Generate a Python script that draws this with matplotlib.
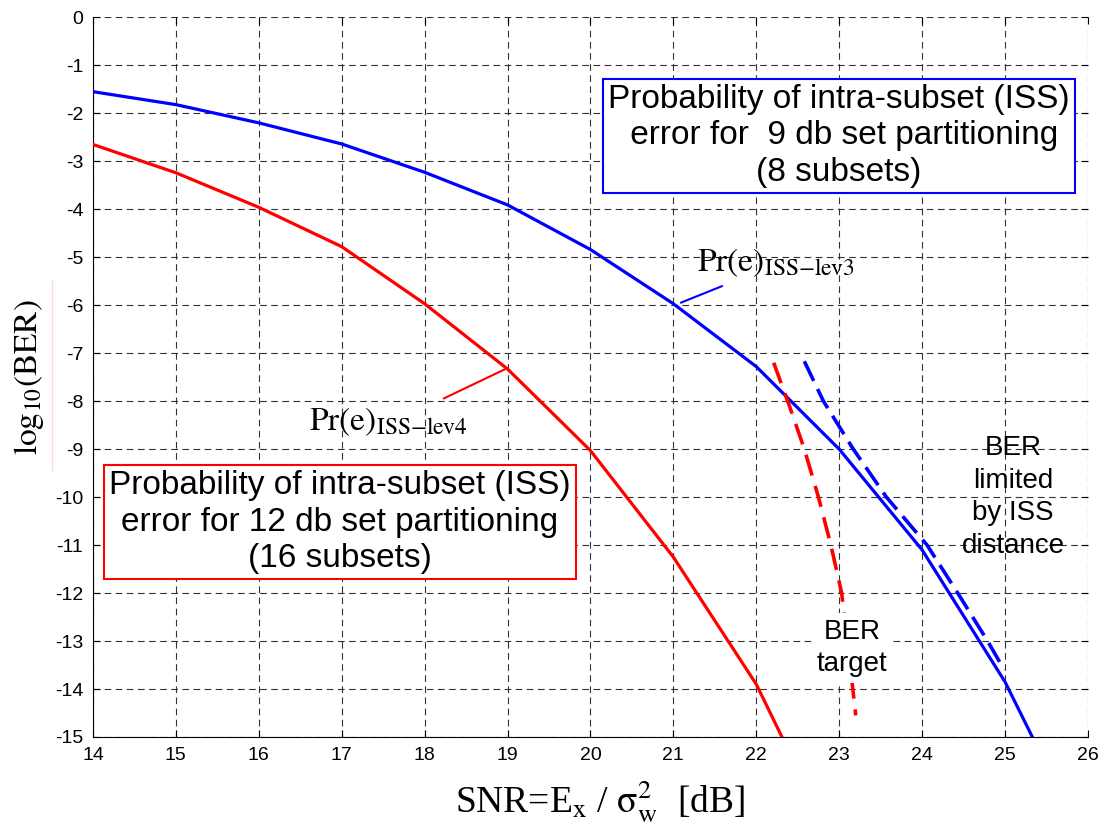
import matplotlib
matplotlib.use("Agg")
import matplotlib.pyplot as plt
from matplotlib.lines import Line2D

# data (log10 BER vs SNR in dB)
snr_lev3 = [14, 15, 16, 17, 18, 19, 20, 21, 22, 23, 24, 25, 25.33]
ber_lev3 = [-1.55, -1.82, -2.2, -2.64, -3.23, -3.91, -4.84, -5.97, -7.28, -9.0, -11.1, -13.85, -15.0]

snr_lev4 = [14, 15, 16, 17, 18, 19, 20, 21, 22, 22.31]
ber_lev4 = [-2.65, -3.24, -3.96, -4.78, -5.97, -7.33, -9.03, -11.25, -13.9, -15.0]

# dashed curves: BER target and BER limited by ISS distance
snr_target = [22.21, 22.38, 22.58, 22.75, 22.90, 23.03, 23.12, 23.20]
ber_target = [-7.2, -8.0, -9.0, -10.0, -11.0, -12.0, -13.3, -14.55]

snr_limited = [22.58, 22.81, 23.17, 23.57, 24.06, 24.43, 24.79, 24.99]
ber_limited = [-7.17, -8.0, -9.0, -10.0, -11.0, -12.0, -13.0, -13.6]

x_ticks = list(range(14, 27))
y_ticks = list(range(-15, 1))

plt.rcParams['font.family'] = ['Liberation Sans', 'DejaVu Sans']
plt.rcParams['mathtext.fontset'] = 'stix'
plt.rcParams['axes.unicode_minus'] = False

fig = plt.figure(figsize=(11, 8.24), dpi=100)
ax = fig.add_axes([0.0845, 0.1056, 0.9045, 0.8734])

# main curves
ax.plot(snr_lev3, ber_lev3, color='blue', lw=2.3, zorder=3)
ax.plot(snr_lev4, ber_lev4, color='red', lw=2.3, zorder=3)
l1, = ax.plot(snr_target, ber_target, color='red', lw=2.6, zorder=3)
l1.set_dashes((6, 3))
l2, = ax.plot(snr_limited, ber_limited, color='blue', lw=2.6, zorder=3)
l2.set_dashes((6, 2.5))

ax.set_xlim(14, 26)
ax.set_ylim(-15, 0)
ax.set_xticks(x_ticks)
ax.set_yticks(y_ticks)
ax.tick_params(direction='in', labelsize=14, right=True, top=True, length=5, pad=7)

# matlab-like dashed grid, no top/right box
ax.grid(True, color='#333333', lw=0.8, dashes=(6, 4))
ax.spines['top'].set_visible(False)
ax.spines['right'].set_visible(False)

serif = ['Liberation Serif', 'DejaVu Serif']
ax.set_xlabel(r'SNR=E$_\mathrm{x}$ / $\mathrm{\sigma}_\mathrm{w}^2$  [dB]', fontsize=27, family=serif)
ax.xaxis.set_label_coords(0.51, -0.058)
ax.set_ylabel(r'$\mathrm{log_{10}(BER)}$', fontsize=24)
ax.yaxis.set_label_coords(-0.047, 0.5)

# pointer labels
ax.annotate('', xy=(21.06, -5.97), xytext=(21.62, -5.58),
            arrowprops=dict(arrowstyle='-', color='blue', lw=1.5))
ax.text(21.29, -5.30, r'$\mathrm{Pr(e)}_{\mathrm{ISS{-}lev3}}$', fontsize=24, ha='left', va='baseline')
ax.annotate('', xy=(19.0, -7.31), xytext=(18.2, -7.97),
            arrowprops=dict(arrowstyle='-', color='red', lw=1.5))
ax.text(16.60, -8.6, r'$\mathrm{Pr(e)}_{\mathrm{ISS{-}lev4}}$', fontsize=24, ha='left', va='baseline')

# boxed descriptions
ax.text(23.0, -2.47, 'Probability of intra-subset (ISS)\n error for  9 db set partitioning\n(8 subsets)',
        fontsize=24, ha='center', va='center', linespacing=1.22, zorder=5,
        bbox=dict(boxstyle='square,pad=0.15', fc='white', ec='blue', lw=1.5))
ax.text(16.98, -10.52, 'Probability of intra-subset (ISS)\nerror for 12 db set partitioning\n(16 subsets)',
        fontsize=24, ha='center', va='center', linespacing=1.22, zorder=5,
        bbox=dict(boxstyle='square,pad=0.15', fc='white', ec='red', lw=1.5))

ax.text(25.1, -10.0, 'BER\nlimited\nby ISS\ndistance', fontsize=20, ha='center', va='center',
        linespacing=1.32, zorder=5)
# white backing hides the dashed target curve behind the label, as in the original
ax.text(23.16, -13.15, 'BER\ntarget', fontsize=20, ha='center', va='center', linespacing=1.32,
        zorder=5, bbox=dict(boxstyle='square,pad=0.2', fc='white', ec='none'))

# faint line next to the y label
fig.add_artist(Line2D([0.047, 0.047], [0.43, 0.66], transform=fig.transFigure,
                      color='#ffd8d8', lw=1))

fig.savefig('out.png', dpi=100)
